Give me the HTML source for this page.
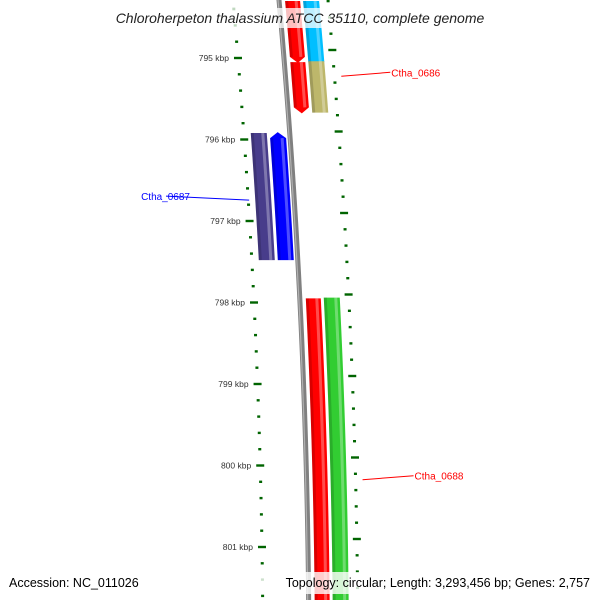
<!DOCTYPE html>
<html><head><meta charset="utf-8"><style>
body{margin:0;background:#fff}
svg{display:block;font-family:"Liberation Sans","DejaVu Sans",sans-serif}
</style></head><body>
<svg id="map" width="600" height="600" viewBox="0 0 600 600" xmlns="http://www.w3.org/2000/svg">
<g id="ticks"></g>
<g id="backbone"></g>
<g id="features"></g>
<g id="labels"></g>
<rect x="92" y="8" width="416" height="20" fill="#fff" opacity="0.75"/>
<text x="300" y="23" text-anchor="middle" font-size="14" font-style="italic" fill="#222">Chloroherpeton thalassium ATCC 35110, complete genome</text>
<rect x="0" y="572" width="600" height="22" fill="#fff" opacity="0.8"/>
<text x="9" y="587" font-size="12.5" fill="#000">Accession: NC_011026</text>
<text x="590" y="587" text-anchor="end" font-size="12.5" fill="#000">Topology: circular; Length: 3,293,456 bp; Genes: 2,757</text>
</svg>
<script>
const tickKbp = [795,796,797,798,799,800,801];
const minorStep = 0.2;
const featNames = ['f-red-top','f-cyan-top','Ctha_0686-red','Ctha_0686','Ctha_0687-slate','Ctha_0687','Ctha_0688-red','Ctha_0688'];
const featStart = [794.3,794.3,795.05,795.04,795.92,795.91,797.95,797.94];
const featEnd   = [795.06,795.05,795.68,795.67,797.48,797.48,801.8,801.8];
const featTrack = [2,3,2,3,0,1,2,3];
const featArrow = ['end','none','end','none','none','start','none','none'];
const featColor = ['#ff0000','#00bfff','#ff0000','#bdb76b','#483d8b','#0000ff','#ff0000','#32cd32'];
const labelText = ['Ctha_0686','Ctha_0687','Ctha_0688'];
const labelKbp  = [795.2,796.72,800.15];
const labelColor= ['#ff0000','#0000ff','#ff0000'];
const labelSide = ['right','left','right'];

const NS='http://www.w3.org/2000/svg';
function yOf(k){return 58+(k-795)*81.5;}
function kOf(y){return 795+(y-58)/81.5;}
function baseX(y){return 232.0+0.0898*y-6.73e-5*y*y;}
const trackOff=[[8,24],[27,43],[53,68],[71,87]];
function mk(tag,attrs,parent){const e=document.createElementNS(NS,tag);for(const k in attrs)e.setAttribute(k,attrs[k]);parent.appendChild(e);return e;}

// ticks
const tg=document.getElementById('ticks');
for(let k=794.2;k<=802.01;k+=minorStep){
  const kk=Math.round(k*10)/10;const y=yOf(kk);
  if(y<-5||y>605)continue;
  const major=Math.abs(kk-Math.round(kk))<0.01;
  const L=major?8:3;
  const xl=baseX(y)+1, xr=baseX(y)+96;
  const t1=mk('rect',{x:xl-L/2,y:y-1.2,width:L,height:2.4,fill:'#006400'},tg);
  
  
  const yr=y-8;const t2=mk('rect',{x:baseX(yr)+96-L/2,y:yr-1.2,width:L,height:2.4,fill:'#006400'},tg);
  
  
}
tickKbp.forEach(k=>{const y=yOf(k);
  const t=mk('text',{x:baseX(y)-8,y:y+3,'font-size':'8.5','text-anchor':'end',fill:'#333'},tg);
  t.textContent=k+' kbp';
  
  
});

// backbone
const bb=document.getElementById('backbone');
let pts=[];for(let y=-5;y<=605;y+=10)pts.push((baseX(y)+47)+','+y);
const bl=mk('polyline',{points:pts.join(' '),fill:'none',stroke:'#808080','stroke-width':5},bb);


const bl2=mk('polyline',{points:pts.map(p=>{const[a,b]=p.split(',');return (+a-1)+','+b}).join(' '),fill:'none',stroke:'#b0b0b0','stroke-width':1.2},bb);



// features
const fg=document.getElementById('features');
featNames.forEach((n,i)=>{
  const y0=Math.max(yOf(featStart[i]),-10), y1=Math.min(yOf(featEnd[i]),610);
  const [o0,o1]=trackOff[featTrack[i]];
  const aLen=6;
  let ys=y0+(featArrow[i]==='start'?aLen:0), ye=y1-(featArrow[i]==='end'?aLen:0);
  const left=[],right=[];
  for(let s=0;s<=20;s++){const y=ys+(ye-ys)*s/20;left.push([baseX(y)+o0,y]);right.push([baseX(y)+o1,y]);}
  let poly=[];
  if(featArrow[i]==='start')poly.push([baseX(y0)+(o0+o1)/2,y0]);
  poly=poly.concat(left);
  if(featArrow[i]==='end')poly.push([baseX(y1)+(o0+o1)/2,y1]);
  poly=poly.concat(right.reverse());
  const g=mk('g',{},fg);
  
  
  mk('polygon',{points:poly.map(p=>p.join(',')).join(' '),fill:featColor[i]},g);
  const hl=[];for(let s=0;s<=20;s++){const y=ys+(ye-ys)*s/20;hl.push((baseX(y)+o1-4)+','+y);}
  mk('polyline',{points:hl.join(' '),fill:'none',stroke:'#fff','stroke-opacity':0.3,'stroke-width':3},g);
  const sh=[];for(let s=0;s<=20;s++){const y=ys+(ye-ys)*s/20;sh.push((baseX(y)+o0+1.5)+','+y);}
  mk('polyline',{points:sh.join(' '),fill:'none',stroke:'#000','stroke-opacity':0.15,'stroke-width':3},g);
});

// labels
const lg=document.getElementById('labels');
labelText.forEach((t,i)=>{
  const y=yOf(labelKbp[i]);
  let x1,x2,tx,anchor;
  if(labelSide[i]==='right'){x1=baseX(y)+103;x2=x1+49+(i==2?2:0);tx=x2+1;anchor='start';}
  else{x1=baseX(y)+2;x2=166;tx=190;anchor='end';}
  const l=mk('line',{x1:x1,y1:y+2,x2:x2,y2:y-2,stroke:labelColor[i],'stroke-width':1},lg);
  
  
  const tt=mk('text',{x:tx,y:y+2,'font-size':'10','text-anchor':anchor,fill:labelColor[i]},lg);
  tt.textContent=t;
  
  
});
</script>
</body></html>
